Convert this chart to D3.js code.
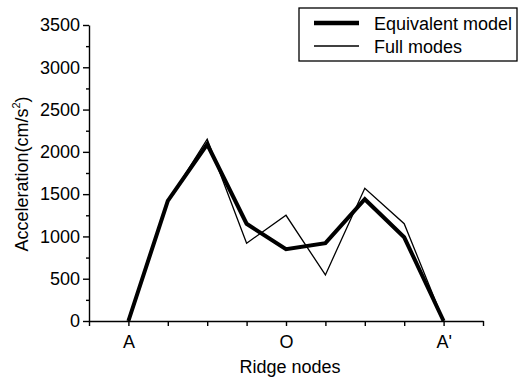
<!DOCTYPE html>
<html>
<head>
<meta charset="utf-8">
<script src="https://cdn.jsdelivr.net/npm/d3@7"></script>
<style>
  html, body { margin: 0; padding: 0; background: #fff; }
  svg { display: block; font-family: "Liberation Sans", Arial, Helvetica, sans-serif; }
  .axis path, .axis line { stroke: #000; stroke-width: 1.4; }
  .axis text { font-size: 18px; fill: #000; }
</style>
</head>
<body>
<svg id="chart" width="520" height="381"></svg>
<script>
// Node positions along the ridge and their labels
const nodePos = [1, 2, 3, 4, 5, 6, 7, 8, 9];
const xTickValues = [0, 1, 2, 3, 4, 5, 6, 7, 8, 9, 10];
const xTickLabels = { 1: "A", 5: "O", 9: "A'" };
const yTickValues = [0, 500, 1000, 1500, 2000, 2500, 3000, 3500];

// Peak acceleration (cm/s^2) at each node
const equivalentModel = [0, 1420, 2090, 1150, 850, 920, 1440, 990, 0];
const fullModes       = [0, 1410, 2150, 920, 1250, 545, 1570, 1150, 0];

const seriesNames = ["Equivalent model", "Full modes"];

const svg = d3.select("#chart");

const x = d3.scaleLinear().domain([0, 10]).range([89, 483]);
const y = d3.scaleLinear().domain([0, 3500]).range([321, 25]);

// minor y ticks (every 250)
svg.append("g")
  .attr("class", "axis")
  .attr("transform", `translate(${x(0)},0)`)
  .call(d3.axisLeft(y).tickValues(d3.range(250, 3500, 500)).tickSize(3).tickFormat(""))
  .call(g => g.select(".domain").remove());

// y axis
svg.append("g")
  .attr("class", "axis")
  .attr("transform", `translate(${x(0)},0)`)
  .call(d3.axisLeft(y).tickValues(yTickValues).tickSize(6).tickPadding(3).tickSizeOuter(0)
    .tickFormat(d3.format("d")));

// x axis
svg.append("g")
  .attr("class", "axis")
  .attr("transform", `translate(0,${y(0)})`)
  .call(d3.axisBottom(x).tickValues(xTickValues).tickSize(5).tickPadding(9).tickSizeOuter(0)
    .tickFormat(d => xTickLabels[d] || ""));

// axis titles
svg.append("text")
  .attr("x", 290).attr("y", 373)
  .attr("text-anchor", "middle")
  .attr("font-size", 18)
  .text("Ridge nodes");

const yt = svg.append("text")
  .attr("transform", "translate(28,174) rotate(-90)")
  .attr("text-anchor", "middle")
  .attr("font-size", 18);
yt.append("tspan").text("Acceleration(cm/s");
yt.append("tspan").attr("font-size", 11).attr("dy", -8).text("2");
yt.append("tspan").attr("dy", 8).text(")");

// data lines
const line = d3.line().x((d, i) => x(nodePos[i])).y(d => y(d));

svg.append("path")
  .datum(fullModes)
  .attr("fill", "none")
  .attr("stroke", "#000")
  .attr("stroke-width", 1.3)
  .attr("d", line);

svg.append("path")
  .datum(equivalentModel)
  .attr("fill", "none")
  .attr("stroke", "#000")
  .attr("stroke-width", 4)
  .attr("stroke-linejoin", "miter")
  .attr("d", line);

// legend
const legend = svg.append("g");
legend.append("rect")
  .attr("x", 299).attr("y", 8).attr("width", 218).attr("height", 53)
  .attr("fill", "#fff").attr("stroke", "#000").attr("stroke-width", 1.3);

const legendWidths = [4.5, 1.3];
const legendY = [23, 46];
seriesNames.forEach((name, i) => {
  legend.append("line")
    .attr("x1", 314).attr("x2", 359)
    .attr("y1", legendY[i]).attr("y2", legendY[i])
    .attr("stroke", "#000").attr("stroke-width", legendWidths[i]);
  legend.append("text")
    .attr("x", 374).attr("y", legendY[i] + 6.5)
    .attr("font-size", 18)
    .text(name);
});
</script>
</body>
</html>
